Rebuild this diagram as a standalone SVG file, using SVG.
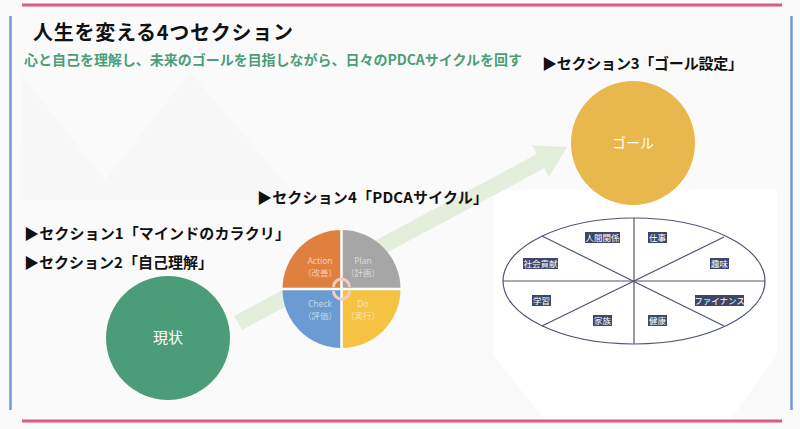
<svg xmlns="http://www.w3.org/2000/svg" width="800" height="429" viewBox="0 0 800 429">
<style>
.head{font-family:"Noto Sans CJK JP","Noto Sans",sans-serif;font-weight:bold;fill:#111;font-size:15px}
.q{font-family:"Noto Sans","Noto Sans CJK JP",sans-serif;font-size:8.5px;fill:#fff;fill-opacity:0.6;text-anchor:middle}
.tag rect{fill:#3e4668}
.tag text{font-family:"Noto Sans CJK JP",sans-serif;font-size:8.5px;fill:#fff;text-anchor:middle}
.ell{fill:none;stroke:#4e5676;stroke-width:1.2}
</style>
<g id="background">
<rect x="0" y="0" width="800" height="429" fill="#fbfafb"/>
<polygon points="493,190 777,190 777,355 730,420 545,420 493,355" fill="#ffffff"/>
<polygon points="22,75 105,180 190,72 300,200 20,200" fill="#f6f5f6" opacity="0.7"/>
<line x1="22" y1="5" x2="782" y2="5" stroke="#dd5a7b" stroke-width="3"/>
<line x1="22" y1="421" x2="782" y2="421" stroke="#dd5a7b" stroke-width="3"/>
<line x1="10.5" y1="16" x2="10.5" y2="410" stroke="#6f9bd3" stroke-width="2.5"/>
<line x1="791.5" y1="16" x2="791.5" y2="410" stroke="#6f9bd3" stroke-width="2.5"/>
</g>
<g id="title">
<text x="33" y="40" font-family="'Noto Sans CJK JP','Noto Sans',sans-serif" font-weight="bold" font-size="20" fill="#111" textLength="260" lengthAdjust="spacing">人生を変える4つセクション</text>
<text x="24" y="65" font-family="'Noto Sans CJK JP','Noto Sans',sans-serif" font-weight="bold" font-size="14" fill="#4a9e7a" textLength="498" lengthAdjust="spacing">心と自己を理解し、未来のゴールを目指しながら、日々のPDCAサイクルを回す</text>
</g>
<g id="connectors">
<polygon points="234.2,315.9 536.7,154.1 532,145.3 567,147 549,177.1 544.3,168.3 241.8,330.1" fill="#e3eedc"/>
</g>
<g id="labels">
<text class="head" x="542" y="69" textLength="201" lengthAdjust="spacing">▶セクション3「ゴール設定」</text>
<text class="head" x="257" y="203" textLength="231" lengthAdjust="spacing">▶セクション4「PDCAサイクル」</text>
<text class="head" x="24" y="239" textLength="266" lengthAdjust="spacing">▶セクション1「マインドのカラクリ」</text>
<text class="head" x="24" y="268" textLength="189" lengthAdjust="spacing">▶セクション2「自己理解」</text>
</g>
<g id="current">
<circle cx="168" cy="338" r="62" fill="#4b9d7a"/>
<text x="168" y="343" font-family="'Noto Sans CJK JP',sans-serif" font-size="15" fill="#fff" text-anchor="middle">現状</text>
</g>
<g id="goal">
<circle cx="633" cy="143" r="62" fill="#e8b84c"/>
<text x="633" y="148" font-family="'Noto Sans CJK JP',sans-serif" font-size="14" fill="#fff" text-anchor="middle">ゴール</text>
</g>
<g id="pdca">
<path d="M341.5,289 L282.5,289 A59,59 0 0 1 341.5,230 Z" fill="#e0803f"/>
<path d="M341.5,289 L341.5,230 A59,59 0 0 1 400.5,289 Z" fill="#a6a6a6"/>
<path d="M341.5,289 L400.5,289 A59,59 0 0 1 341.5,348 Z" fill="#f6c243"/>
<path d="M341.5,289 L341.5,348 A59,59 0 0 1 282.5,289 Z" fill="#6a9bd2"/>
<line x1="341.5" y1="228" x2="341.5" y2="350" stroke="#fff" stroke-width="2.5"/>
<line x1="280" y1="289" x2="403" y2="289" stroke="#fff" stroke-width="2.5"/>
<path d="M333.5,287 A8,8 0 0 1 349.5,287" fill="none" stroke="#f2cdc2" stroke-width="3"/>
<path d="M349.5,291 A8,8 0 0 1 333.5,291" fill="none" stroke="#f2cdc2" stroke-width="3"/>
<text class="q" x="320" y="264">Action</text>
<text class="q" x="320" y="276">（改善）</text>
<text class="q" x="363" y="264">Plan</text>
<text class="q" x="363" y="276">（計画）</text>
<text class="q" x="320" y="307">Check</text>
<text class="q" x="320" y="319">（評価）</text>
<text class="q" x="363" y="307">Do</text>
<text class="q" x="363" y="319">（実行）</text>
</g>
<g id="life-wheel">
<ellipse class="ell" cx="634" cy="281" rx="131" ry="63"/>
<line class="ell" x1="634" y1="218" x2="634" y2="344"/>
<line class="ell" x1="503" y1="281" x2="765" y2="281"/>
<line class="ell" x1="542" y1="236" x2="724" y2="326"/>
<line class="ell" x1="724" y1="237" x2="542" y2="326"/>
<g class="tag"><rect x="585" y="232" width="35" height="11"/><text x="602.5" y="241">人間関係</text></g>
<g class="tag"><rect x="648" y="232" width="19" height="11"/><text x="657.5" y="241">仕事</text></g>
<g class="tag"><rect x="523" y="258" width="35" height="11"/><text x="540.5" y="267">社会貢献</text></g>
<g class="tag"><rect x="710" y="258" width="19" height="11"/><text x="719.5" y="267">趣味</text></g>
<g class="tag"><rect x="532" y="295" width="19" height="11"/><text x="541.5" y="304">学習</text></g>
<g class="tag"><rect x="695" y="295" width="49" height="11"/><text x="719.5" y="304">ファイナンス</text></g>
<g class="tag"><rect x="593" y="315" width="19" height="11"/><text x="602.5" y="324">家族</text></g>
<g class="tag"><rect x="648" y="315" width="19" height="11"/><text x="657.5" y="324">健康</text></g>
</g>
</svg>
